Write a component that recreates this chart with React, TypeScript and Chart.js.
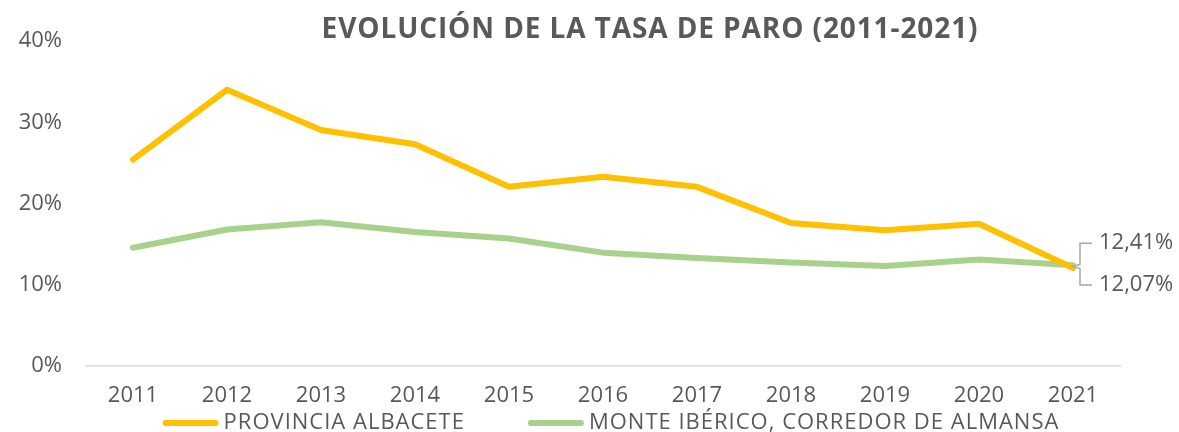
import React, { useEffect, useRef } from "react";
import { Chart, registerables } from "chart.js";

Chart.register(...registerables);

const years = ["2011", "2012", "2013", "2014", "2015", "2016", "2017", "2018", "2019", "2020", "2021"];
const provinciaAlbacete = [25.4, 34.0, 29.05, 27.3, 22.05, 23.3, 22.05, 17.6, 16.7, 17.5, 12.07];
const monteIberico = [14.55, 16.8, 17.7, 16.5, 15.7, 13.95, 13.3, 12.75, 12.3, 13.1, 12.41];
const yTicks = [0, 10, 20, 30, 40];
const endLabels = ["12,41%", "12,07%"];
const seriesNames = ["PROVINCIA ALBACETE", "MONTE IBÉRICO, CORREDOR DE ALMANSA"];
const seriesColors = ["#FFC000", "#A9D18E"];
const titleText = "EVOLUCIÓN DE LA TASA DE PARO (2011-2021)";

const FONT = "'Open Sans', sans-serif";
const GRAY = "#595959";

const decorPlugin = {
  id: "decor",
  afterDraw(chart: any) {
    const ctx = chart.ctx;
    const x = chart.scales.x;
    const y = chart.scales.y;
    ctx.save();

    // Title
    ctx.fillStyle = GRAY;
    ctx.font = `bold 28px ${FONT}`;
    (ctx as any).letterSpacing = "0.9px";
    ctx.textAlign = "center";
    ctx.textBaseline = "middle";
    ctx.fillText(titleText, 650, 30);

    // Legend
    ctx.font = `22px ${FONT}`;
    (ctx as any).letterSpacing = "1px";
    ctx.textAlign = "left";
    const boxW = 56;
    const boxGap = 5;
    const itemGap = 63;
    const widths = seriesNames.map((n) => ctx.measureText(n).width);
    const total = widths.reduce((a: number, w: number) => a + boxW + boxGap + w, 0) + itemGap * (seriesNames.length - 1);
    let lx = 611 - total / 2;
    const ly = 423;
    seriesNames.forEach((n, i) => {
      ctx.strokeStyle = seriesColors[i];
      ctx.lineWidth = 6;
      ctx.lineCap = "round";
      ctx.beginPath();
      ctx.moveTo(lx + 3, ly);
      ctx.lineTo(lx + boxW - 3, ly);
      ctx.stroke();
      ctx.fillStyle = GRAY;
      ctx.fillText(n, lx + boxW + boxGap, ly);
      lx += boxW + boxGap + widths[i] + itemGap;
    });

    // End labels with bracket
    (ctx as any).letterSpacing = "0px";
    const lastIdx = years.length - 1;
    const px = x.getPixelForValue(lastIdx);
    const pyGreen = y.getPixelForValue(monteIberico[lastIdx]);
    const pyYellow = y.getPixelForValue(provinciaAlbacete[lastIdx]);
    const mid = (pyGreen + pyYellow) / 2;
    const upY = pyGreen - 22;
    const downY = pyYellow + 17;
    const bx = px + 7;
    ctx.strokeStyle = "#A6A6A6";
    ctx.lineWidth = 1.5;
    ctx.lineCap = "butt";
    ctx.beginPath();
    ctx.moveTo(bx + 12, upY);
    ctx.lineTo(bx, upY);
    ctx.lineTo(bx, mid - 2);
    ctx.lineTo(px, mid);
    ctx.lineTo(bx, mid + 2);
    ctx.lineTo(bx, downY);
    ctx.lineTo(bx + 12, downY);
    ctx.stroke();
    ctx.fillStyle = GRAY;
    ctx.font = `22px ${FONT}`;
    ctx.textBaseline = "middle";
    ctx.fillText(endLabels[0], bx + 19, upY);
    ctx.fillText(endLabels[1], bx + 19, downY);
    ctx.restore();
  },
};

export default function App() {
  const ref = useRef<HTMLCanvasElement>(null);
  useEffect(() => {
    document.body.style.margin = "0";
    const chart = new Chart(ref.current!, {
      type: "line",
      data: {
        labels: years,
        datasets: seriesNames.map((name, i) => ({
          label: name,
          data: i === 0 ? provinciaAlbacete : monteIberico,
          borderColor: seriesColors[i],
          backgroundColor: seriesColors[i],
          borderWidth: 6,
          pointRadius: 0,
          borderCapStyle: "round",
          borderJoinStyle: "round",
          tension: 0,
        })),
      },
      options: {
        animation: false,
        responsive: false,
        layout: { padding: { left: 0, right: 59, top: 41, bottom: 0 } },
        plugins: {
          title: { display: false },
          legend: { display: false },
          tooltip: { enabled: false },
        },
        scales: {
          x: {
            offset: true,
            afterFit: (s: any) => {
              s.height = 66;
            },
            grid: { display: false, drawTicks: false },
            border: { display: true, color: "#D9D9D9", width: 1.5 },
            ticks: { color: GRAY, font: { family: FONT, size: 22 }, padding: 17, maxRotation: 0 },
          },
          y: {
            min: 0,
            max: 40,
            afterFit: (s: any) => {
              s.width = 86;
            },
            afterBuildTicks: (s: any) => {
              s.ticks = yTicks.map((v) => ({ value: v }));
            },
            grid: { display: false, drawTicks: false },
            border: { display: false },
            ticks: {
              color: GRAY,
              font: { family: FONT, size: 22 },
              padding: 24,
              callback: (v: any) => `${v}%`,
            },
          },
        },
      },
      plugins: [decorPlugin],
    });
    return () => chart.destroy();
  }, []);
  return (
    <div style={{ position: "absolute", left: 0, top: 0, width: 1179, height: 432 }}>
      <canvas ref={ref} width={1179} height={432} style={{ width: 1179, height: 432 }} />
    </div>
  );
}
